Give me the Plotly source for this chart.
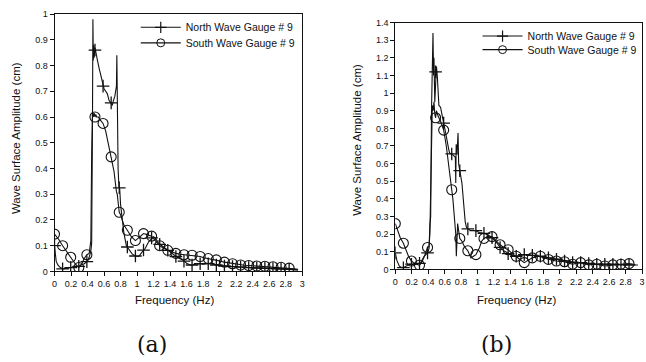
import plotly.graph_objects as go

# ---------------- (a) ----------------
fa_north = [0.0, 0.02, 0.04, 0.07, 0.1, 0.15, 0.2, 0.25, 0.28, 0.32, 0.36, 0.4, 0.42, 0.44, 0.45, 0.46,
            0.465, 0.47, 0.475, 0.48, 0.49, 0.5, 0.51, 0.52, 0.54, 0.56, 0.58, 0.6, 0.62, 0.64, 0.66, 0.68,
            0.7, 0.71, 0.72, 0.73, 0.74, 0.75, 0.755, 0.76, 0.765, 0.77, 0.78, 0.79, 0.8, 0.82, 0.84, 0.87,
            0.9, 0.94, 0.98, 1.02, 1.06, 1.1, 1.14, 1.18, 1.2, 1.22, 1.26, 1.3, 1.35, 1.4, 1.45, 1.5, 1.55,
            1.6, 1.65, 1.7, 1.75, 1.8, 1.85, 1.9, 1.95, 2.0, 2.1, 2.2, 2.3, 2.4, 2.5, 2.6, 2.7, 2.8, 2.9, 2.95]
aa_north = [0.10, 0.04, 0.025, 0.015, 0.01, 0.012, 0.015, 0.02, 0.018, 0.025, 0.03, 0.04, 0.055, 0.08, 0.11, 0.6,
            0.98, 0.82, 0.88, 0.83, 0.87, 0.85, 0.84, 0.82, 0.79, 0.76, 0.74, 0.71, 0.70, 0.69, 0.665, 0.655,
            0.645, 0.66, 0.67, 0.68, 0.70, 0.72, 0.84, 0.60, 0.45, 0.40, 0.33, 0.32, 0.26, 0.19, 0.15, 0.10,
            0.085, 0.068, 0.06, 0.058, 0.075, 0.09, 0.115, 0.13, 0.135, 0.13, 0.11, 0.10, 0.088, 0.075, 0.062, 0.052, 0.045,
            0.032, 0.024, 0.028, 0.03, 0.028, 0.031, 0.03, 0.026, 0.022, 0.02, 0.018, 0.016, 0.014, 0.012, 0.011, 0.01, 0.009, 0.006, 0.005]

fa_south = [0.0, 0.05, 0.098, 0.15, 0.196, 0.25, 0.294, 0.33, 0.36, 0.392, 0.42, 0.44, 0.45, 0.46, 0.47, 0.48,
            0.49, 0.5, 0.51, 0.53, 0.55, 0.588, 0.62, 0.65, 0.686, 0.72, 0.75, 0.76, 0.77, 0.784, 0.8, 0.84,
            0.882, 0.93, 0.98, 1.03, 1.078, 1.13, 1.176, 1.22, 1.274, 1.32, 1.372, 1.42, 1.47, 1.52, 1.568,
            1.62, 1.666, 1.72, 1.764, 1.81, 1.862, 1.91, 1.96, 2.01, 2.058, 2.11, 2.156, 2.2, 2.254, 2.3,
            2.352, 2.4, 2.45, 2.5, 2.548, 2.6, 2.646, 2.7, 2.744, 2.8, 2.842, 2.9, 2.95]
aa_south = [0.145, 0.125, 0.10, 0.075, 0.055, 0.03, 0.015, 0.03, 0.05, 0.065, 0.07, 0.12, 0.45, 0.62, 0.60, 0.615,
            0.60, 0.61, 0.60, 0.60, 0.59, 0.575, 0.545, 0.50, 0.445, 0.39, 0.31, 0.30, 0.27, 0.23, 0.22, 0.18,
            0.16, 0.135, 0.12, 0.135, 0.147, 0.142, 0.137, 0.12, 0.10, 0.09, 0.082, 0.075, 0.07, 0.067, 0.065,
            0.064, 0.063, 0.06, 0.058, 0.053, 0.05, 0.047, 0.045, 0.04, 0.036, 0.033, 0.03, 0.027, 0.025, 0.024,
            0.023, 0.022, 0.021, 0.02, 0.02, 0.019, 0.018, 0.017, 0.016, 0.014, 0.013, 0.01, 0.008]

# marker positions (symbols drawn every ~0.098 Hz)
f_mark = [0.0, 0.098, 0.196, 0.294, 0.392, 0.49, 0.588, 0.686, 0.784, 0.882, 0.98, 1.078, 1.176, 1.274, 1.372,
          1.47, 1.568, 1.666, 1.764, 1.862, 1.96, 2.058, 2.156, 2.254, 2.352, 2.45, 2.548, 2.646, 2.744, 2.842]
ma_north = [0.10, 0.01, 0.015, 0.02, 0.038, 0.86, 0.72, 0.655, 0.325, 0.095, 0.06, 0.083, 0.13, 0.105, 0.082,
            0.058, 0.04, 0.025, 0.03, 0.03, 0.025, 0.021, 0.019, 0.017, 0.015, 0.013, 0.012, 0.011, 0.01, 0.008]
ma_south = [0.145, 0.10, 0.055, 0.015, 0.065, 0.60, 0.575, 0.445, 0.23, 0.16, 0.12, 0.147, 0.137, 0.10, 0.082,
            0.07, 0.065, 0.063, 0.058, 0.05, 0.045, 0.036, 0.03, 0.025, 0.023, 0.021, 0.02, 0.018, 0.016, 0.013]

# ---------------- (b) ----------------
fb_north = [0.0, 0.02, 0.048, 0.07, 0.098, 0.13, 0.17, 0.21, 0.25, 0.294, 0.31, 0.33, 0.35, 0.392, 0.41, 0.42,
            0.43, 0.44, 0.45, 0.458, 0.465, 0.47, 0.48, 0.49, 0.5, 0.51, 0.52, 0.53, 0.55, 0.57, 0.588, 0.61,
            0.63, 0.65, 0.66, 0.686, 0.71, 0.73, 0.735, 0.74, 0.75, 0.763, 0.77, 0.784, 0.81, 0.83, 0.85, 0.865,
            0.882, 0.91, 0.95, 0.98, 1.02, 1.078, 1.13, 1.176, 1.22, 1.25, 1.274, 1.33, 1.372, 1.42, 1.47, 1.52,
            1.568, 1.62, 1.666, 1.72, 1.764, 1.81, 1.862, 1.91, 1.96, 2.01, 2.058, 2.11, 2.156, 2.2, 2.254, 2.3,
            2.352, 2.4, 2.45, 2.5, 2.548, 2.6, 2.646, 2.7, 2.744, 2.8, 2.842, 2.9, 2.95]
ab_north = [0.094, 0.05, 0.02, 0.012, 0.01, 0.02, 0.03, 0.028, 0.03, 0.035, 0.04, 0.06, 0.075, 0.094, 0.12, 0.25,
            0.30, 0.90, 1.20, 1.34, 1.10, 1.20, 0.95, 1.12, 1.15, 1.10, 1.02, 0.93, 0.92, 0.88, 0.83, 0.78,
            0.72, 0.68, 0.66, 0.655, 0.645, 0.636, 0.49, 0.71, 0.66, 0.773, 0.60, 0.56, 0.49, 0.38, 0.27, 0.24,
            0.23, 0.222, 0.22, 0.22, 0.21, 0.205, 0.195, 0.18, 0.16, 0.14, 0.125, 0.103, 0.09, 0.08, 0.075, 0.08,
            0.084, 0.082, 0.08, 0.078, 0.075, 0.07, 0.066, 0.062, 0.058, 0.053, 0.048, 0.043, 0.04, 0.039, 0.039, 0.036,
            0.034, 0.032, 0.03, 0.03, 0.03, 0.03, 0.03, 0.029, 0.027, 0.026, 0.026, 0.025, 0.025]

fb_south = [0.0, 0.03, 0.06, 0.098, 0.13, 0.16, 0.196, 0.23, 0.26, 0.294, 0.32, 0.35, 0.392, 0.41, 0.42, 0.43,
            0.44, 0.45, 0.46, 0.47, 0.48, 0.49, 0.5, 0.52, 0.55, 0.588, 0.62, 0.65, 0.686, 0.7, 0.72, 0.735,
            0.742, 0.75, 0.758, 0.77, 0.784, 0.81, 0.84, 0.882, 0.92, 0.95, 0.98, 1.02, 1.05, 1.078, 1.13,
            1.176, 1.22, 1.274, 1.32, 1.372, 1.42, 1.47, 1.52, 1.568, 1.62, 1.666, 1.72, 1.764, 1.81, 1.862,
            1.91, 1.96, 2.01, 2.058, 2.11, 2.156, 2.2, 2.254, 2.3, 2.352, 2.4, 2.45, 2.5, 2.548, 2.6, 2.646,
            2.7, 2.744, 2.8, 2.842, 2.9]
ab_south = [0.26, 0.22, 0.18, 0.149, 0.11, 0.075, 0.048, 0.035, 0.03, 0.024, 0.04, 0.07, 0.125, 0.13, 0.20, 0.45,
            0.85, 0.93, 0.90, 0.95, 0.88, 0.86, 0.90, 0.87, 0.84, 0.79, 0.70, 0.60, 0.452, 0.40, 0.30, 0.20,
            0.075, 0.20, 0.26, 0.22, 0.176, 0.16, 0.13, 0.106, 0.065, 0.075, 0.084, 0.12, 0.16, 0.176, 0.19,
            0.186, 0.165, 0.14, 0.125, 0.112, 0.09, 0.075, 0.055, 0.039, 0.055, 0.066, 0.072, 0.075, 0.065, 0.057,
            0.052, 0.048, 0.046, 0.044, 0.036, 0.03, 0.035, 0.039, 0.032, 0.026, 0.028, 0.03, 0.024, 0.02, 0.023, 0.026,
            0.028, 0.03, 0.032, 0.033, 0.03]

mb_north = [0.094, 0.01, 0.03, 0.035, 0.094, 1.12, 0.83, 0.655, 0.56, 0.23, 0.22, 0.205, 0.18, 0.125, 0.09,
            0.075, 0.084, 0.08, 0.075, 0.066, 0.058, 0.048, 0.04, 0.039, 0.034, 0.03, 0.03, 0.03, 0.027, 0.026]
mb_south = [0.26, 0.149, 0.048, 0.024, 0.125, 0.86, 0.79, 0.452, 0.176, 0.106, 0.084, 0.176, 0.186, 0.14, 0.112,
            0.075, 0.039, 0.066, 0.075, 0.057, 0.048, 0.044, 0.03, 0.039, 0.026, 0.03, 0.02, 0.026, 0.03, 0.033]

legend_names = ["North Wave Gauge # 9", "South Wave Gauge # 9"]
y_ticks_a = [round(0.1 * i, 1) for i in range(11)]
y_ticks_b = [round(0.1 * i, 1) for i in range(15)]
x_ticks = [round(0.2 * i, 1) for i in range(16)]

W, H = 646, 362
INK = "#111111"
FONT = "Liberation Sans, Arial, sans-serif"

north_marker = dict(symbol="cross-thin-open", size=9, color=INK, line=dict(width=1.3, color=INK))
south_marker = dict(symbol="circle-open", size=10, color=INK, line=dict(width=1.1, color=INK))
north_marker_lg = dict(symbol="cross-thin-open", size=8, color=INK, line=dict(width=1.2, color=INK))
south_marker_lg = dict(symbol="circle-open", size=8, color=INK, line=dict(width=1.0, color=INK))

fig = go.Figure()

panels = [
    ("x", "y", ("legend", "legend2"), fa_north, aa_north, fa_south, aa_south, ma_north, ma_south),
    ("x2", "y2", ("legend3", "legend4"), fb_north, ab_north, fb_south, ab_south, mb_north, mb_south),
]
for xa, ya, lgs, fn, an, fs, as_, mn, ms in panels:
    fig.add_trace(go.Scatter(x=fn, y=an, mode="lines", line=dict(color=INK, width=1.1),
                             xaxis=xa, yaxis=ya, showlegend=False, hoverinfo="skip"))
    fig.add_trace(go.Scatter(x=fs, y=as_, mode="lines", line=dict(color=INK, width=1.1),
                             xaxis=xa, yaxis=ya, showlegend=False, hoverinfo="skip"))
    fig.add_trace(go.Scatter(x=f_mark, y=mn, mode="markers", marker=north_marker,
                             xaxis=xa, yaxis=ya, showlegend=False))
    fig.add_trace(go.Scatter(x=f_mark, y=ms, mode="markers", marker=south_marker,
                             xaxis=xa, yaxis=ya, showlegend=False))
    # legend entries
    fig.add_trace(go.Scatter(x=[None], y=[None], mode="lines+markers", name=legend_names[0],
                             line=dict(color=INK, width=1.1), marker=north_marker_lg,
                             xaxis=xa, yaxis=ya, legend=lgs[0]))
    fig.add_trace(go.Scatter(x=[None], y=[None], mode="lines+markers", name=legend_names[1],
                             line=dict(color=INK, width=1.1), marker=south_marker_lg,
                             xaxis=xa, yaxis=ya, legend=lgs[1]))

def px_x(p):
    return p / W

def px_y(p):
    return (H - p) / H

axis_common = dict(showgrid=False, zeroline=False, showline=True, linecolor=INK, linewidth=1,
                   mirror=True, ticks="outside", ticklen=4, tickwidth=1, tickcolor=INK,
                   tickfont=dict(family=FONT, size=9, color=INK))

def legend_at(xp, yp):
    return dict(x=px_x(xp), y=px_y(yp), xanchor="left", yanchor="top", bgcolor="rgba(0,0,0,0)",
                font=dict(family=FONT, size=10.5, color=INK), itemwidth=40)

fig.update_layout(
    width=W, height=H, margin=dict(l=0, r=0, t=0, b=0),
    paper_bgcolor="white", plot_bgcolor="white",
    font=dict(family=FONT, color=INK),
    xaxis=dict(domain=[px_x(52), px_x(302)], range=[0, 3], tickvals=x_ticks, anchor="y", **axis_common),
    yaxis=dict(domain=[px_y(274), px_y(9.3)], range=[0, 1], tickvals=y_ticks_a, anchor="x", **axis_common),
    xaxis2=dict(domain=[px_x(396), px_x(645)], range=[0, 3], tickvals=x_ticks, anchor="y2", **axis_common),
    yaxis2=dict(domain=[px_y(272), px_y(18)], range=[0, 1.4], tickvals=y_ticks_b, anchor="x2", **axis_common),
    legend=legend_at(134, 8),
    legend2=legend_at(134, 24),
    legend3=legend_at(479, 17),
    legend4=legend_at(479, 31),
    showlegend=True,
)

annots = [
    dict(text="Wave Surface Amplitude (cm)", x=px_x(13), y=px_y(137), textangle=-90, size=11.5, fam=FONT),
    dict(text="Wave Surface Amplitude (cm)", x=px_x(357), y=px_y(139), textangle=-90, size=11.5, fam=FONT),
    dict(text="Frequency (Hz)", x=px_x(173), y=px_y(303), textangle=0, size=11.5, fam=FONT),
    dict(text="Frequency (Hz)", x=px_x(518), y=px_y(303), textangle=0, size=11.5, fam=FONT),
    dict(text="(a)", x=px_x(150), y=px_y(349), textangle=0, size=22, fam="DejaVu Serif, serif"),
    dict(text="(b)", x=px_x(498), y=px_y(349), textangle=0, size=22, fam="DejaVu Serif, serif"),
]
for a in annots:
    fig.add_annotation(text=a["text"], x=a["x"], y=a["y"], xref="paper", yref="paper",
                       xanchor="center", yanchor="middle", showarrow=False, textangle=a["textangle"],
                       font=dict(family=a["fam"], size=a["size"], color=INK))

fig.write_html("out.html")
